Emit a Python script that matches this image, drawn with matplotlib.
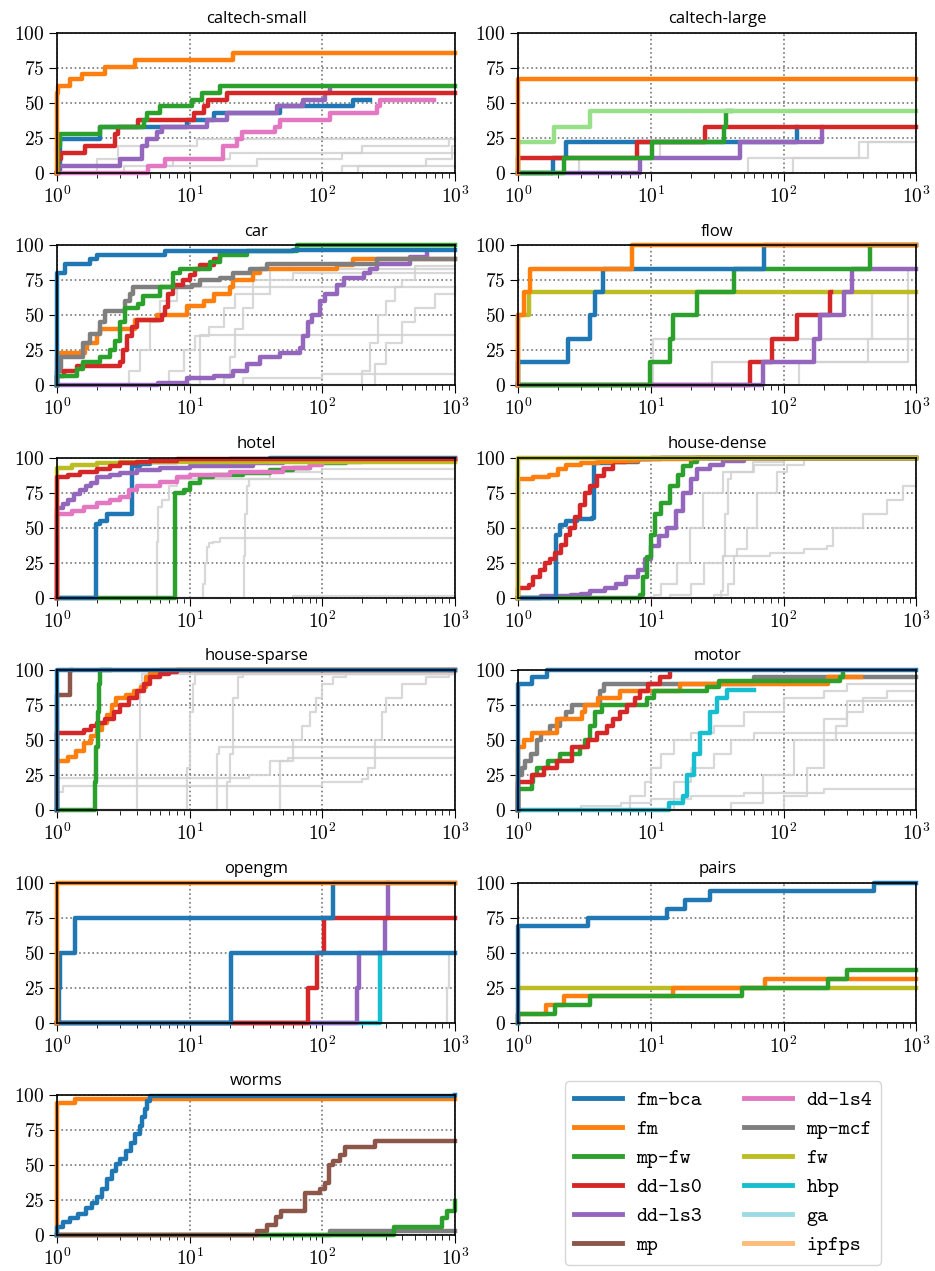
import os
import matplotlib
import matplotlib.pyplot as plt
from matplotlib.lines import Line2D
from matplotlib.font_manager import FontProperties

plt.rcParams['font.family'] = 'cmr10'
plt.rcParams['mathtext.fontset'] = 'cm'
plt.rcParams['axes.formatter.use_mathtext'] = True

methods = ["fm-bca", "fm", "mp-fw", "dd-ls0", "dd-ls3", "mp",
           "dd-ls4", "mp-mcf", "fw", "hbp", "ga", "ipfps"]
colors = {"fm-bca": "#1f77b4", "fm": "#ff7f0e", "mp-fw": "#2ca02c",
          "dd-ls0": "#d62728", "dd-ls3": "#9467bd", "mp": "#8c564b",
          "dd-ls4": "#e377c2", "mp-mcf": "#7f7f7f", "fw": "#bcbd22",
          "hbp": "#17becf", "ga": "#9edae5", "ipfps": "#ffbb78",
          "other": "#98df8a"}

titles = ["caltech-small", "caltech-large", "car", "flow", "hotel", "house-dense",
          "house-sparse", "motor", "opengm", "pairs", "worms"]

# (method, x, y) step curves: y in % of instances solved vs. time factor x
caltech_small = [
    ("fm-bca", [1, 1.05, 1.3, 2.11, 9.5, 15.1, 48, 171, 229], [0, 24, 24, 33, 38, 43, 48, 52, 52]),
    ("dd-ls4", [1, 4.88, 6.52, 17.9, 22.6, 24.7, 44, 48, 114, 257, 272, 687], [0, 5, 10, 19, 24, 29, 33, 38, 43, 48, 52, 52]),
    ("dd-ls3", [1, 1.03, 2.98, 4.35, 4.74, 5.64, 6.15, 13.4, 19.0, 45.3, 71.9, 105, 114], [0, 5, 10, 19, 24, 29, 33, 38, 43, 48, 52, 57, 60]),
    ("dd-ls0", [1, 1.02, 1.07, 1.63, 2.74, 2.9, 4.1, 10.7, 12.7, 13.8, 19.0, 1000], [0, 10, 14, 19, 28, 33, 38, 43, 48, 52, 57, 57]),
    ("mp-fw", [1, 1.02, 1.05, 2.11, 4.5, 4.74, 5.97, 10.4, 12.3, 16.9, 1000], [0, 19, 28, 33, 38, 43, 48, 52, 57, 62, 62]),
    ("fm", [1, 1.005, 1.02, 1.25, 1.53, 2.3, 3.87, 21.3, 1000], [0, 57, 62, 67, 71, 76, 81, 86, 86]),
]
caltech_small_gray = [
    ([1, 2.0, 2.9, 11.3, 1000], [0, 10, 19, 24, 24]),
    ([1, 4.9, 7.5, 20, 200, 900, 1000], [0, 5, 10, 14, 19, 24, 24]),
    ([1, 3.2, 32, 140, 1000], [0, 5, 10, 14, 14]),
    ([1, 140, 600, 950, 1000], [0, 5, 10, 19, 19]),
    ([1, 185, 1000], [0, 5, 5]),
]

caltech_large = [
    ("fm-bca", [1, 1.82, 2.3, 126, 127], [0, 11, 22, 33, 33]),
    ("dd-ls3", [1, 8.3, 47, 194, 196], [0, 11, 22, 33, 33]),
    ("dd-ls0", [1, 1.0, 7.84, 25.7, 1000], [0, 11, 22, 33, 33]),
    ("mp-fw", [1, 2.2, 10.2, 35.3, 37, 40], [0, 11, 22, 33, 44, 44]),
    ("other", [1, 1.0, 1.85, 3.49, 1000], [0, 22, 33, 44, 44]),
    ("fm", [1, 1.0, 1000], [0, 67, 67]),
]
caltech_large_gray = [
    ([1, 2.9, 11.8, 13], [0, 11, 22, 22]),
    ([1, 54, 367, 1000], [0, 11, 22, 22]),
    ([1, 118, 435, 1000], [0, 11, 22, 22]),
]

car = [
    ("dd-ls3", [1, 5.8, 9.5, 15.1, 21.3, 26.9, 33.9, 48, 67.9, 71.9, 78.4, 83.1, 96, 105, 128, 144, 204, 229, 257, 458, 611],
     [0, 2, 5, 7, 10, 15, 20, 23, 27, 35, 45, 50, 60, 65, 72, 77, 80, 83, 87, 92, 96]),
    ("fm", [1, 1.0, 1.05, 1.63, 1.67, 1.99, 2.11, 3.87, 5.64, 9.5, 12.7, 15.1, 20.1, 21.3, 30.2, 33.9, 128, 171, 1000],
     [0, 20, 23, 27, 30, 37, 40, 47, 50, 57, 60, 65, 70, 75, 80, 83, 86, 90, 90]),
    ("mp-mcf", [1, 1.0, 1.08, 1.58, 1.77, 2.11, 2.3, 3.26, 3.55, 3.76, 10.4, 12, 16.9, 21.3, 28.5, 38, 257, 1000],
     [0, 10, 20, 30, 37, 45, 53, 60, 65, 70, 72, 75, 77, 80, 83, 87, 90, 90]),
    ("dd-ls0", [1, 1.0, 1.12, 1.41, 2.98, 3.16, 3.35, 3.65, 3.99, 6.15, 6.52, 6.9, 7.53, 8.96, 10.1, 11, 12, 15.1, 16.9],
     [0, 7, 10, 14, 17, 25, 35, 42, 47, 50, 56, 65, 72, 75, 79, 83, 86, 90, 95]),
    ("mp-fw", [1, 1.0, 1.41, 1.58, 2.11, 2.51, 2.74, 2.98, 3.26, 4.1, 4.48, 5.98, 7.53, 8.45, 14.2, 16.9, 26.9, 64.1, 1000],
     [0, 7, 12, 17, 20, 25, 32, 45, 55, 58, 64, 70, 80, 83, 88, 93, 96, 100, 100]),
    ("fm-bca", [1, 1.0, 1.15, 1.77, 1.99, 6.5, 60, 1000], [0, 80, 87, 90, 93, 96, 97, 97]),
]
car_gray = [
    ([1, 7, 9, 11, 14, 18, 22, 30, 40, 1000], [0, 10, 25, 35, 42, 55, 65, 75, 83, 83]),
    ([1, 18, 20, 22, 25, 30, 40, 60, 1000], [0, 5, 20, 40, 55, 65, 75, 80, 80]),
    ([1, 3.5, 4.2, 5, 6, 8, 1000], [0, 10, 25, 45, 60, 70, 70]),
    ([1, 200, 230, 260, 300, 350, 400, 500, 1000], [0, 10, 30, 50, 60, 70, 75, 85, 85]),
    ([1, 250, 300, 400, 500, 700, 1000], [0, 15, 30, 45, 55, 65, 70]),
    ([1, 12, 1000], [0, 36, 36]),
    ([1, 25, 100, 1000], [0, 5, 8, 8]),
]

flow = [
    ("fw", [1, 1.0, 1.2, 1000], [0, 50, 67, 67]),
    ("dd-ls0", [1, 55.4, 81.7, 126, 225, 228], [0, 17, 33, 50, 67, 67]),
    ("dd-ls3", [1, 69.9, 171, 189, 283, 327, 1000], [0, 17, 33, 50, 67, 83, 83]),
    ("mp-fw", [1, 9.89, 14, 14.8, 22.2, 42, 450, 1000], [0, 17, 33, 50, 67, 83, 100, 100]),
    ("fm-bca", [1, 1.0, 2.39, 3.45, 3.8, 4.35, 70.7, 1000], [0, 17, 33, 50, 67, 83, 100, 100]),
    ("fm", [1, 1.0, 1.1, 1.23, 7.19, 1000], [0, 50, 67, 83, 100, 100]),
]
flow_gray = [
    ([1, 10.3, 1000], [0, 33, 33]),
    ([1, 29, 430, 460, 1000], [0, 17, 33, 67, 67]),
    ([1, 130, 870, 1000], [0, 17, 83, 83]),
]

hotel = [
    ("mp-fw", [1, 7.75, 9, 10, 12, 15, 25, 40, 60, 80, 150, 300, 1000], [0, 75, 77, 82, 86, 88, 89, 91, 93, 96, 98, 99, 99]),
    ("fm-bca", [1, 1.96, 2.1, 2.4, 3.65, 4.2, 5, 8, 20, 40, 1000], [0, 53, 55, 60, 94, 95.5, 97, 98, 99, 100, 100]),
    ("dd-ls4", [1, 1.0, 1.3, 1.6, 2, 2.5, 3, 3.5, 4, 6, 8, 10, 20, 50, 80, 100, 200, 1000],
     [0, 60, 62, 65, 68, 70, 72, 77, 80, 83, 86, 88, 90, 93, 95, 97, 98, 98]),
    ("dd-ls3", [1, 1.0, 1.1, 1.2, 1.35, 1.5, 1.65, 1.8, 2, 2.5, 3, 4, 6, 10, 30, 50, 100, 1000],
     [0, 64, 67, 70, 74, 77, 80, 82, 86, 88, 89, 91, 93, 94, 96, 98, 99, 99]),
    ("fw", [1, 1.0, 1.3, 2, 3, 1000], [0, 93, 95, 96, 97, 97]),
    ("dd-ls0", [1, 1.0, 1.2, 1.5, 2, 2.5, 3, 4, 5, 8, 20, 1000], [0, 86, 88, 90, 92, 94, 96, 97, 98, 99, 99, 99]),
]
hotel_gray = [
    ([1, 5.64, 5.8, 6.2, 7, 8, 1000], [0, 40, 65, 70, 80, 85, 95]),
    ([1, 12.5, 13, 13.5, 14, 15, 17, 1000], [0, 10, 25, 36, 39, 40, 43, 43]),
    ([1, 25.5, 26, 27, 28, 40, 100, 1000], [0, 30, 60, 80, 85, 90, 92, 94]),
    ([1, 60, 1000], [0, 1, 1]),
]

house_dense = [
    ("dd-ls3", [1, 1.5, 2.5, 3, 3.5, 4.5, 5.5, 6.5, 8, 9, 10, 11.5, 13.2, 15.5, 17.6, 20, 22.2, 28, 35, 50, 1000],
     [0, 1, 2, 3, 5, 7, 10, 15, 20, 28, 37, 44, 50, 62, 75, 85, 92, 95, 98, 100, 100]),
    ("mp-fw", [1, 8.3, 8.8, 9.3, 10, 10.8, 12, 14, 16, 17.6, 20, 22.2, 1000], [0, 2, 15, 29, 45, 60, 68, 80, 88, 94, 97, 100, 100]),
    ("fm-bca", [1, 1.93, 2.05, 2.3, 2.8, 3.6, 3.7, 5, 8, 12, 1000], [0, 45, 52, 55, 56, 57, 96, 97, 99, 100, 100]),
    ("dd-ls0", [1, 1.0, 1.2, 1.3, 1.45, 1.6, 1.75, 1.9, 2.1, 2.3, 2.47, 2.7, 2.95, 3.2, 3.5, 3.9, 4.4, 5.2, 6.5, 8, 10, 1000],
     [0, 7, 9, 15, 20, 25, 28, 32, 38, 45, 50, 58, 66, 75, 80, 87, 92, 97, 98, 99, 100, 100]),
    ("fm", [1, 1.0, 1.3, 1.7, 2, 2.3, 3, 4, 5, 8, 20, 1000], [0, 85, 86, 88, 92, 95, 96, 97, 98, 99, 100, 100]),
    ("fw", [1, 1.0, 1000], [0, 100, 100]),
]
house_dense_gray = [
    ([1, 10.5, 12, 15.7, 19.7, 24.9, 35, 59, 100, 1000], [0, 2, 10, 25, 50, 75, 90, 97, 99, 100]),
    ([1, 34, 35, 36, 38, 40, 60, 100, 1000], [0, 5, 30, 60, 85, 90, 95, 99, 100]),
    ([1, 14, 20, 25, 35, 44.5, 52.7, 62.7, 89, 106, 142, 1000], [0, 2, 10, 25, 30, 35, 50, 75, 90, 95, 100, 100]),
    ([1, 30, 38, 42, 79, 142, 211, 237, 398, 600, 800, 1000], [0, 2, 10, 30, 32, 35, 37, 50, 60, 70, 80, 85]),
]

house_sparse = [
    ("fm", [1, 1.0, 1.2, 1.4, 1.6, 1.8, 2.0, 2.2, 2.4, 2.6, 2.8, 3.3, 3.8, 4.3, 4.7, 5.0, 6.0, 1000],
     [0, 35, 38, 42, 48, 53, 57, 62, 68, 75, 80, 82, 85, 88, 95, 98, 100, 100]),
    ("dd-ls0", [1, 1.0, 1.3, 1.6, 1.8, 2.0, 2.3, 2.7, 3.0, 3.5, 4.0, 4.5, 5.0, 6.0, 7.0, 8.0, 1000],
     [0, 55, 55, 57, 60, 62, 65, 70, 75, 80, 85, 90, 95, 97, 99, 100, 100]),
    ("mp-fw", [1, 1.93, 1.98, 2.03, 2.08, 2.11, 2.5], [0, 20, 45, 70, 90, 100, 100]),
    ("mp", [1, 1.0, 1.25, 1.27], [0, 82, 100, 100]),
    ("fm-bca", [1, 1.0, 1000], [0, 100, 100]),
]
house_sparse_gray = [
    ([1, 4.0, 4.2, 4.4, 5, 1000], [0, 50, 90, 97, 97, 97]),
    ([1, 9.5, 10, 10.5, 11, 1000], [0, 30, 70, 90, 97, 97]),
    ([1, 16, 16.5, 1000], [0, 40, 45, 45]),
    ([1, 19, 20, 21, 23, 25, 1000], [0, 20, 40, 80, 95, 97, 97]),
    ([1, 48, 55, 1000], [0, 35, 37, 37]),
    ([1, 1.0, 28, 40, 60, 70, 80, 90, 100, 120, 150, 1000], [0, 23, 25, 35, 50, 60, 70, 80, 90, 95, 97, 97]),
    ([1, 1.0, 1.1, 100, 200, 220, 250, 280, 300, 400, 600, 900, 1000], [0, 13, 17, 20, 22, 30, 50, 70, 80, 90, 95, 99, 99]),
]

motor = [
    ("hbp", [1, 13.6, 17.6, 18.6, 21, 23.5, 28, 31.4, 37.4, 59.4], [0, 5, 10, 25, 40, 55, 70, 80, 86, 86]),
    ("mp-mcf", [1, 1.0, 1.07, 1.12, 1.25, 1.38, 1.5, 1.74, 2.07, 2.3, 2.54, 4.15, 4.4, 60, 1000],
     [0, 25, 30, 35, 40, 50, 55, 60, 65, 70, 75, 85, 90, 95, 95]),
    ("fm", [1, 1.0, 1.1, 1.27, 1.96, 3.02, 3.2, 4.03, 5.87, 16.6, 218, 380], [0, 45, 50, 55, 65, 70, 75, 80, 85, 90, 95, 95]),
    ("mp-fw", [1, 1.0, 1.27, 1.3, 1.38, 1.69, 2.07, 2.93, 3.2, 3.49, 3.8, 4.27, 9.33, 10.5, 26.4, 32.4, 267, 280],
     [0, 15, 20, 25, 30, 35, 40, 45, 50, 60, 70, 75, 80, 85, 88, 92, 95, 97]),
    ("dd-ls0", [1, 1.0, 1.27, 1.56, 1.96, 2.54, 3.39, 3.91, 4.66, 5.2, 5.87, 6.6, 7.59, 8.3, 9.55, 11.7, 14],
     [0, 20, 25, 30, 35, 45, 50, 55, 60, 65, 70, 75, 80, 85, 90, 95, 98]),
    ("fm-bca", [1, 1.0, 1.27, 1.64, 1000], [0, 90, 95, 100, 100]),
]
motor_gray = [
    ([1, 7, 9, 10, 12, 15, 20, 30, 50, 100, 200, 300, 1000], [0, 10, 20, 30, 40, 50, 55, 60, 70, 80, 85, 90, 90]),
    ([1, 15, 20, 30, 40, 60, 100, 1000], [0, 20, 30, 40, 50, 55, 55, 55]),
    ([1, 100, 150, 200, 250, 300, 400, 600, 1000], [0, 10, 30, 50, 60, 70, 80, 85, 87]),
    ([1, 3, 6, 10, 20, 50, 200, 1000], [0, 3, 5, 8, 10, 12, 15, 15]),
    ([1, 40, 70, 120, 200, 300, 1000], [0, 5, 25, 50, 65, 78, 82]),
]

opengm = [
    ("hbp", [1, 273], [0, 50]),
    ("dd-ls3", [1, 181, 187, 297, 314], [0, 25, 50, 75, 100]),
    ("dd-ls0", [1, 78.4, 90.6, 102, 1000], [0, 25, 50, 75, 75]),
    ("fm-bca", [1, 20.4, 1000], [0, 50, 50]),
    ("fm-bca", [1, 1.03, 1.05, 1.37, 121, 1000], [0, 25, 50, 75, 100, 100]),
    ("fm", [1, 1.0, 1000], [0, 100, 100]),
]
opengm_gray = [
    ([1, 860, 900, 1000], [0, 25, 50, 50]),
]

pairs = [
    ("fw", [1, 1000], [25, 25]),
    ("fm", [1, 1.0, 1.63, 2.2, 14.8, 72.8, 1000], [0, 6, 12.5, 19, 25, 31, 31]),
    ("mp-fw", [1, 1.0, 1.9, 3.49, 48.5, 218, 300, 1000], [0, 6, 12.5, 19, 25, 31, 37.5, 37.5]),
    ("fm-bca", [1, 1.0, 3.39, 13.2, 18.2, 28, 477, 1000], [0, 69, 75, 81, 87.5, 94, 100, 100]),
]
pairs_gray = []

worms = [
    ("mp-mcf", [1, 114, 1000], [0, 3, 3]),
    ("mp-fw", [1, 343, 794, 865, 1000], [0, 6, 12, 17, 24]),
    ("mp", [1, 32, 38, 45, 49, 74, 96, 105, 111, 121, 136, 148, 250, 1000],
     [0, 3, 7, 13, 17, 30, 33, 37, 50, 53, 57, 63, 67, 67]),
    ("fm", [1, 1.0, 1.37, 1000], [0, 94, 97, 97]),
    ("fm-bca", [1, 1.0, 1.1, 1.25, 1.45, 1.65, 1.85, 2.0, 2.2, 2.4, 2.6, 2.8, 3.0, 3.3, 3.6, 3.9, 4.2, 4.4, 4.6, 4.8, 5.0, 1000],
     [0, 6, 9, 12, 15, 19, 23, 27, 33, 40, 46, 51, 54, 60, 66, 72, 78, 84, 90, 96, 99, 100]),
]
worms_gray = []

panels = [caltech_small, caltech_large, car, flow, hotel, house_dense,
          house_sparse, motor, opengm, pairs, worms]
panels_gray = [caltech_small_gray, caltech_large_gray, car_gray, flow_gray, hotel_gray,
               house_dense_gray, house_sparse_gray, motor_gray, opengm_gray, pairs_gray, worms_gray]

fig, axes = plt.subplots(6, 2, figsize=(9.35, 12.71), dpi=100)
fig.subplots_adjust(left=0.061, right=0.98, top=1 - 33 / 1271, bottom=1 - 1235 / 1271,
                    hspace=0.517, wspace=0.158)
axs = axes.flatten()

for i, ax in enumerate(axs[:11]):
    for gx, gy in panels_gray[i]:
        ax.plot(gx, gy, drawstyle='steps-post', color='#d2d2d2', lw=1.6, alpha=0.85, clip_on=False)
    for key, x, y in panels[i]:
        ax.plot(x, y, drawstyle='steps-post', color=colors[key], lw=3.2, clip_on=False)
    ax.set_xscale('log')
    ax.set_xlim(1, 1000)
    ax.set_ylim(0, 100)
    ax.set_yticks([0, 25, 50, 75, 100])
    ax.set_axisbelow(True)
    ax.grid(True, which='major', linestyle=':', color='#777777', lw=1.2)
    ax.tick_params(axis='both', which='major', direction='out', length=6, labelsize=14, pad=3)
    ax.tick_params(axis='both', which='minor', direction='out', length=3.5)
    for s in ax.spines.values():
        s.set_color('black')
        s.set_linewidth(1.2)
    ax.set_title(titles[i], fontfamily='Open Sans', fontsize=12, pad=7)

axs[11].axis('off')

tt_font = FontProperties(fname=os.path.join(matplotlib.get_data_path(), 'fonts', 'ttf', 'cmtt10.ttf'), size=15)
handles = [Line2D([], [], color=colors[m], lw=3.5, label=m) for m in methods]
fig.legend(handles=handles, ncol=2, loc='center', bbox_to_anchor=(723 / 935, 1 - 1173 / 1271),
           prop=tt_font, frameon=True, fancybox=True,
           edgecolor='#cccccc', handlelength=2.3, handletextpad=0.7, labelspacing=0.45,
           columnspacing=2.0, borderpad=0.45)

plt.savefig('out.png', dpi=100)
